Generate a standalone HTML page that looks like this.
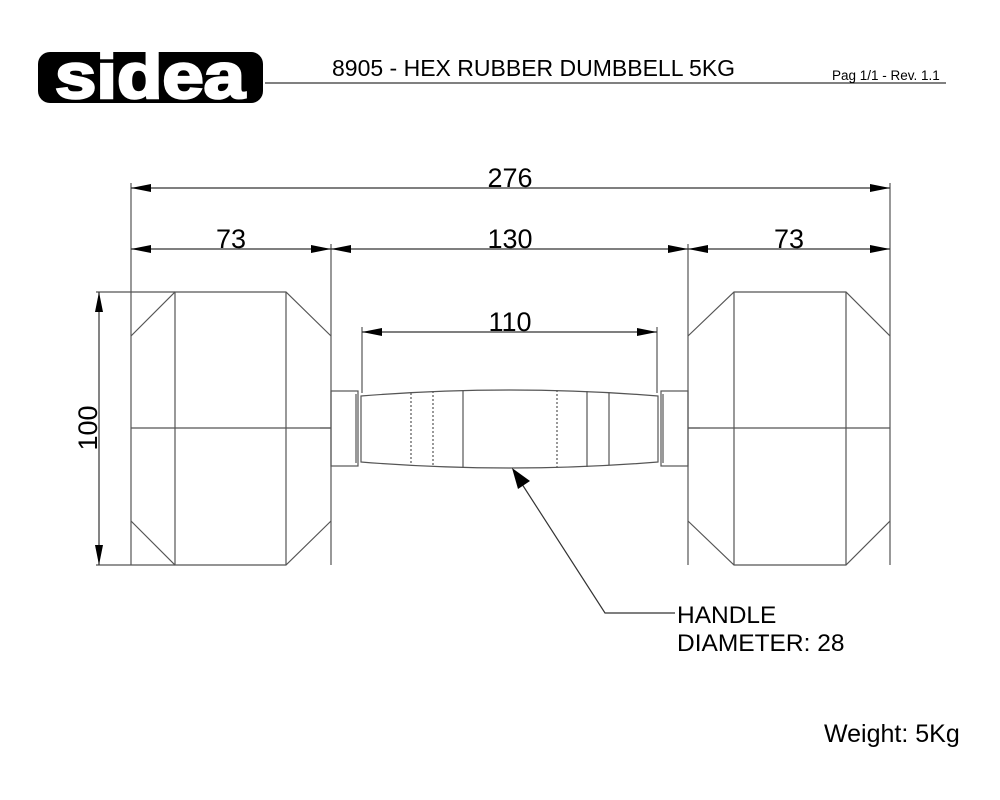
<!DOCTYPE html>
<html><head><meta charset="utf-8"><style>
html,body{margin:0;padding:0;background:#fff;}
svg{display:block;}
text{font-family:"Liberation Sans",sans-serif;fill:#000;}
</style></head><body>
<svg width="1000" height="800" viewBox="0 0 1000 800" xmlns="http://www.w3.org/2000/svg">
<!-- logo -->
<rect x="38" y="52" width="225" height="51" rx="12" fill="#000"/>
<text x="150" y="98" text-anchor="middle" font-size="64" font-weight="bold" style="fill:#fff" stroke="#fff" stroke-width="2.5" textLength="190" lengthAdjust="spacingAndGlyphs">sidea</text>
<text x="332" y="76" font-size="23">8905 - HEX RUBBER DUMBBELL 5KG</text>
<line x1="265" y1="83" x2="946" y2="83" stroke="#000" stroke-width="1"/>
<text x="832" y="80" font-size="13.5">Pag 1/1 - Rev. 1.1</text>
<text x="824" y="742" font-size="25">Weight: 5Kg</text>

<g stroke="#555" stroke-width="1.2" fill="none">
<line x1="131" y1="183" x2="131" y2="565"/>
<line x1="890" y1="183" x2="890" y2="565"/>
<line x1="331" y1="244" x2="331" y2="565"/>
<line x1="688" y1="244" x2="688" y2="565"/>
<line x1="362" y1="327" x2="362" y2="393"/>
<line x1="657" y1="327" x2="657" y2="393"/>
<line x1="96" y1="292" x2="175" y2="292"/>
<line x1="96" y1="565" x2="175" y2="565"/>
<path d="M131,336 L175,292 L286,292 L331,336 M331,521 L286,565 L175,565 L131,521"/>
<line x1="175" y1="292" x2="175" y2="565"/>
<line x1="286" y1="292" x2="286" y2="565"/>
<line x1="131" y1="428" x2="331" y2="428"/>
<path d="M688,336 L734,292 L846,292 L890,336 M890,521 L846,565 L734,565 L688,521"/>
<line x1="734" y1="292" x2="734" y2="565"/>
<line x1="846" y1="292" x2="846" y2="565"/>
<line x1="688" y1="428" x2="890" y2="428"/>
<rect x="331" y="391" width="27" height="75"/>
<rect x="661" y="391" width="27" height="75"/>
<line x1="356" y1="394" x2="356" y2="463"/>
<line x1="663" y1="394" x2="663" y2="463"/>
<path d="M361,396 Q510,384 658,396 L658,462 Q510,474 361,462 Z"/>
<line x1="411" y1="393" x2="411" y2="465" stroke-dasharray="2,2"/>
<line x1="433" y1="391" x2="433" y2="467" stroke-dasharray="2,2"/>
<line x1="463" y1="390" x2="463" y2="468"/>
<line x1="557" y1="390" x2="557" y2="468" stroke-dasharray="2,2"/>
<line x1="587" y1="391" x2="587" y2="467"/>
<line x1="609" y1="393" x2="609" y2="465"/>
<line x1="320" y1="428" x2="331" y2="428"/>
<line x1="688" y1="428" x2="700" y2="428"/>
</g>
<g stroke="#333" stroke-width="1.2" fill="none">
<line x1="131" y1="188" x2="890" y2="188"/>
<line x1="131" y1="249" x2="890" y2="249"/>
<line x1="362" y1="332" x2="657" y2="332"/>
<line x1="99" y1="292" x2="99" y2="565"/>
<polyline points="520,481 605,613 675,613"/>
</g>
<g fill="#000">
<path d="M131,188 l20,-4 v8 Z"/><path d="M890,188 l-20,-4 v8 Z"/>
<path d="M131,249 l20,-4 v8 Z"/><path d="M331,249 l-20,-4 v8 Z"/>
<path d="M331,249 l20,-4 v8 Z"/><path d="M688,249 l-20,-4 v8 Z"/>
<path d="M688,249 l20,-4 v8 Z"/><path d="M890,249 l-20,-4 v8 Z"/>
<path d="M362,332 l20,-4 v8 Z"/><path d="M657,332 l-20,-4 v8 Z"/>
<path d="M99,292 l-4,20 h8 Z"/><path d="M99,565 l-4,-20 h8 Z"/>
<path d="M512,468 L530,481 L518,489 Z"/>
</g>
<g font-size="27">
<text x="510" y="187" text-anchor="middle">276</text>
<text x="231" y="248" text-anchor="middle">73</text>
<text x="510" y="248" text-anchor="middle">130</text>
<text x="789" y="248" text-anchor="middle">73</text>
<text x="510" y="331" text-anchor="middle">110</text>
<text transform="translate(97,428) rotate(-90)" text-anchor="middle">100</text>
</g>
<text x="677" y="623" font-size="24.5">HANDLE</text>
<text x="677" y="651" font-size="24.5">DIAMETER: 28</text>
</svg>
</body></html>
